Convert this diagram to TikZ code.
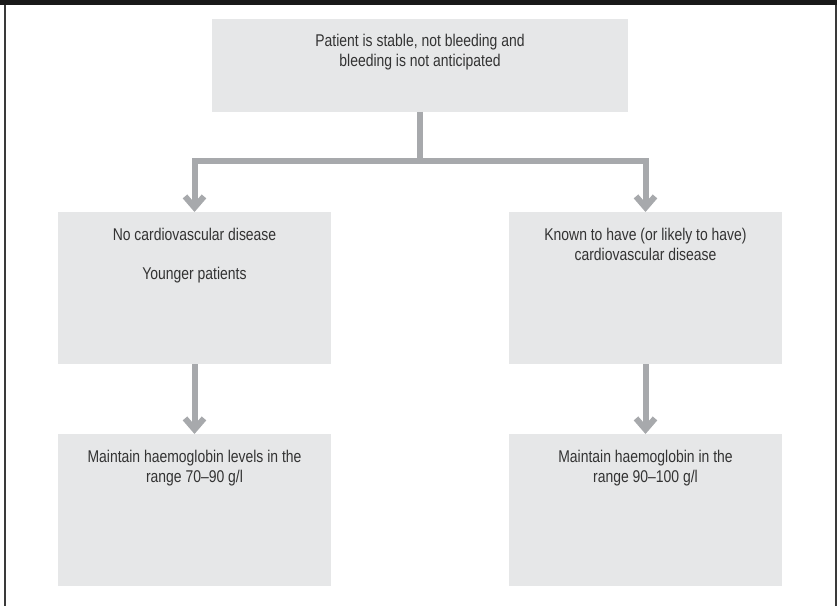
\documentclass[tikz,border=0pt]{standalone}
\usepackage{fontspec}
\setmainfont{Liberation Sans}[FakeStretch=0.82]
\usetikzlibrary{positioning,arrows.meta}
\definecolor{boxgray}{HTML}{E6E7E8}
\definecolor{arrgray}{HTML}{A7A9AC}
\definecolor{txtgray}{HTML}{333333}
\definecolor{framegray}{HTML}{3A3A3A}
\begin{document}
\begin{tikzpicture}[x=1pt,y=1pt]
    \tikzstyle{block} = [rectangle, fill=boxgray, inner sep=0pt, outer sep=0pt, minimum width=273pt, minimum height=152pt]
    \tikzstyle{lbl} = [align=center, inner sep=0pt, text=txtgray, font=\fontsize{17}{19.5}\selectfont]
    \tikzstyle{arr} = [-{Straight Barb[length=11pt, width=19pt]}, line width=6pt, draw=arrgray]
    \useasboundingbox (0,0) rectangle (837,606);
    % frame
    \fill[black!90] (0,606) rectangle (837,601.3);
    \draw[framegray, line width=1.5pt] (5,601.3) -- (5,0);
    \draw[framegray, line width=1.5pt] (836,601.3) -- (836,0);

    \node [block, minimum width=416pt, minimum height=93pt] (stable) at (420,540.5) {};
    \node [block, below=100pt of stable, xshift=-225.5pt] (nocvd) {};
    \node [block, below=100pt of stable, xshift=225.5pt] (cvd) {};
    \node [block, below=70pt of nocvd] (lowhb) {};
    \node [block, below=70pt of cvd] (highhb) {};

    \node [lbl, below=15pt of stable.north] (stabletxt) {Patient is stable, not bleeding and\\bleeding is not anticipated};
    \node [lbl, below=16pt of nocvd.north] (nocvdtxt) {No cardiovascular disease\\[19.5pt]Younger patients};
    \node [lbl, below=16pt of cvd.north] (cvdtxt) {Known to have (or likely to have)\\cardiovascular disease};
    \node [lbl, below=16pt of lowhb.north] (lowhbtxt) {Maintain haemoglobin levels in the\\range 70--90 g/l};
    \node [lbl, below=16pt of highhb.north] (highhbtxt) {Maintain haemoglobin in the\\range 90--100 g/l};

    \draw[arr] (stable.south) -- ++(0,-49) -| (nocvd.north);
    \draw[arr] (stable.south) -- ++(0,-49) -| (cvd.north);
    \draw[arr] (nocvd.south) -- (lowhb.north);
    \draw[arr] (cvd.south) -- (highhb.north);
\end{tikzpicture}
\end{document}
